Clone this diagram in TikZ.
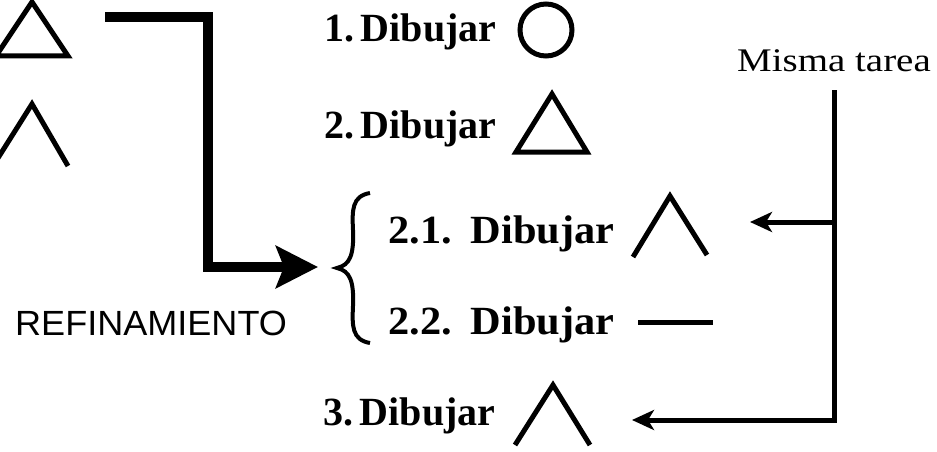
\documentclass[tikz,border=0pt]{standalone}
\usepackage{fontspec}
\setmainfont{Liberation Serif}
\newfontfamily\refsans{Liberation Sans}
\usetikzlibrary{arrows.meta}
\begin{document}
\begin{tikzpicture}[x=1pt,y=-1pt,
  shape line/.style={line width=5pt, line join=miter},
  thin arrow/.style={line width=5pt, -{Stealth[length=22pt,width=20pt,inset=6pt]}},
  item/.style={anchor=base west, inner sep=0pt, font=\fontsize{40}{48}\selectfont\bfseries},
  subitem/.style={anchor=base west, inner sep=0pt, xscale=1.06, font=\fontsize{40}{48}\selectfont\bfseries},
  note/.style={anchor=base west, inner sep=0pt, font=\fontsize{33}{40}\selectfont}
]
\useasboundingbox (0,0) rectangle (937,452);
\fill[white] (0,0) rectangle (937,452);

% left shapes
\draw[shape line] (32,2) -- (68,56) -- (-4,56) -- cycle;
\draw[shape line] (-2,158) -- (32,104) -- (68,166);

% refinement arrow
\coordinate (rstart) at (105,17);
\coordinate (rtip) at (318,267);
\draw[line width=10pt, -{Triangle[length=42pt,width=42pt,inset=8pt]}]
  (rstart) -- (208,17) -- (208,267) -- (rtip);
\node[anchor=base west, inner sep=0pt, font=\refsans\fontsize{35}{42}\selectfont, xscale=1.03] (refin) at (15,335) {REFINAMIENTO};

% items
\node[item] (i1) at (324,42) {1.\,Dibujar};
\draw[shape line] (546,30) circle (26);
\node[item] (i2) at (324,138) {2.\,Dibujar};
\draw[shape line] (552,94) -- (587,152) -- (516,152) -- cycle;

% brace
\draw[line width=4pt] (370,193) .. controls (352,196) and (352,210) .. (353,230)
  .. controls (354,255) and (350,265) .. (337,268)
  .. controls (350,271) and (354,281) .. (353,306)
  .. controls (352,326) and (352,340) .. (370,343);

\node[subitem] (i21) at (388,243) {2.1.\hspace{18pt}Dibujar};
\draw[shape line] (633,257) -- (670,196) -- (707,255);
\node[subitem] (i22) at (388,334) {2.2.\hspace{18pt}Dibujar};
\draw[shape line] (638,322) -- (713,322);

\node[item] (i3) at (323,425) {3.\,Dibujar};
\draw[shape line] (515,445) -- (553,385) -- (590,445);

% same task
\node[note, xscale=1.18] (misma) at (737,72) {Misma tarea};
\coordinate (vtop) at (834,90);
\coordinate (vmid) at (834,222);
\coordinate (vbot) at (834,420);
\coordinate (t21) at (750,222);
\coordinate (t3) at (632,420);
\draw[line width=5pt] (vtop) -- (vbot);
\draw[thin arrow] (vmid) -- (t21);
\draw[thin arrow] (836.5,420) -- (t3);
\end{tikzpicture}
\end{document}
